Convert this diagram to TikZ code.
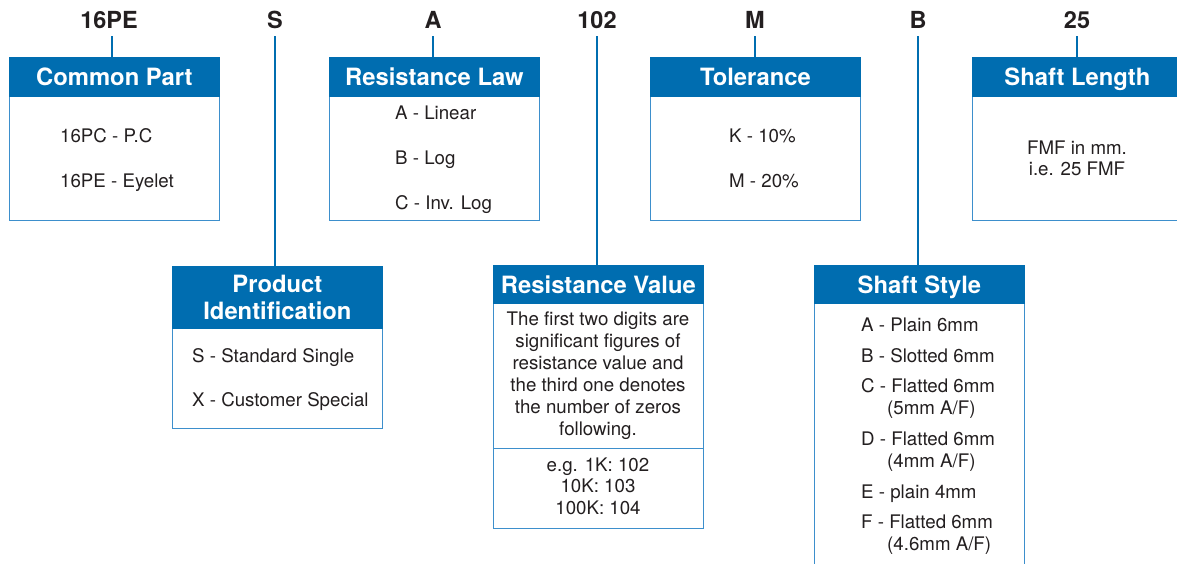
\documentclass[tikz,border=0pt]{standalone}
\usepackage{fontspec}
\setmainfont{TeX Gyre Heros}
\definecolor{hdrblue}{HTML}{006DB0}
\definecolor{edgeblue}{HTML}{3D8FCC}
\definecolor{ink}{HTML}{231F20}
\begin{document}
\begin{tikzpicture}[x=1pt,y=-1pt,
  hdr/.style={fill=hdrblue, draw=hdrblue, line width=0.8pt, text=white,
    font=\bfseries\fontsize{23.8}{27}\selectfont, inner sep=0pt, anchor=north west,
    minimum width=210pt, text height=18pt, text depth=0pt},
  hdr2/.style={hdr, text height={}, text depth={}, align=center},
  bodybox/.style={draw=edgeblue, line width=1.2pt, fill=white, inner sep=0pt,
    anchor=north west, minimum width=210pt},
  txt/.style={text=ink, font=\fontsize{18.7}{22}\selectfont, inner sep=0pt, anchor=base west},
  ctr/.style={txt, anchor=base},
  lbl/.style={text=ink, font=\bfseries\fontsize{23.5}{27}\selectfont, inner sep=0pt, anchor=base},
  conn/.style={draw=hdrblue, line width=1.6pt}
]
\useasboundingbox (0,0) rectangle (1177,563);
\clip (0,0) rectangle (1177,563);
\fill[white] (0,0) rectangle (1177,563);

% top labels
\node[lbl] (l1) at (109,28) {16PE};
\node[lbl] (l2) at (275,28) {S};
\node[lbl] (l3) at (433,28) {A};
\node[lbl] (l4) at (597,28) {102};
\node[lbl] (l5) at (755,28) {M};
\node[lbl] (l6) at (918,28) {B};
\node[lbl] (l7) at (1077,28) {25};

% Common Part
\node[bodybox, minimum height=163pt] (cpB) at (9,57) {};
\node[hdr, minimum height=39pt] (cpH) at (9,57) {Common Part};
\node[txt] (cp1) at (60,142) {16PC - P.C};
\node[txt] (cp2) at (60,187) {16PE - Eyelet};

% Resistance Law
\node[bodybox, minimum height=163pt] (rlB) at (329,57) {};
\node[hdr, minimum height=39pt] (rlH) at (329,57) {Resistance Law};
\node[txt] (rl1) at (395,119) {A - Linear};
\node[txt] (rl2) at (395,164) {B - Log};
\node[txt] (rl3) at (395,209) {C - Inv. Log};

% Tolerance
\node[bodybox, minimum height=163pt] (toB) at (650,57) {};
\node[hdr, minimum height=39pt] (toH) at (650,57) {Tolerance};
\node[txt] (to1) at (729,142) {K - 10\%};
\node[txt] (to2) at (729,187) {M - 20\%};

% Shaft Length
\node[bodybox, minimum height=163pt, minimum width=230pt] (slB) at (972,57) {};
\node[hdr, minimum height=39pt, minimum width=210pt] (slH) at (972,57) {Shaft Length};
\node[ctr] (sl1) at (1077,154) {FMF in mm.};
\node[ctr] (sl2) at (1077,175) {i.e. 25 FMF};

% Product Identification
\node[bodybox, minimum height=162pt] (piB) at (172,266) {};
\node[hdr2, minimum height=62pt] (piH) at (172,266) {Product\\Identification};
\node[txt] (pi1) at (192,362) {S - Standard Single};
\node[txt] (pi2) at (192,406) {X - Customer Special};

% Resistance Value
\node[bodybox, minimum height=183pt] (rvB) at (493,265) {};
\node[bodybox, minimum height=80pt] (rvB2) at (493,448) {};
\node[hdr, minimum height=38pt] (rvH) at (493,265) {Resistance Value};
\node[ctr] (rv1) at (598,325) {The first two digits are};
\node[ctr] (rv2) at (598,347) {significant figures of};
\node[ctr] (rv3) at (598,369) {resistance value and};
\node[ctr] (rv4) at (598,391) {the third one denotes};
\node[ctr] (rv5) at (598,413) {the number of zeros};
\node[ctr] (rv6) at (598,435) {following.};
\node[ctr] (rv7) at (598,471) {e.g. 1K: 102};
\node[ctr] (rv8) at (598,492) {10K: 103};
\node[ctr] (rv9) at (598,514) {100K: 104};

% Shaft Style
\node[bodybox, minimum height=330pt] (ssB) at (814,265) {};
\node[hdr, minimum height=38pt] (ssH) at (814,265) {Shaft Style};
\node[txt] (ss1) at (861,331) {A - Plain 6mm};
\node[txt] (ss2) at (861,362) {B - Slotted 6mm};
\node[txt] (ss3) at (861,392) {C - Flatted 6mm};
\node[txt] (ss4) at (887,414) {(5mm A/F)};
\node[txt] (ss5) at (861,445) {D - Flatted 6mm};
\node[txt] (ss6) at (887,467) {(4mm A/F)};
\node[txt] (ss7) at (861,498) {E - plain 4mm};
\node[txt] (ss8) at (861,528) {F - Flatted 6mm};
\node[txt] (ss9) at (887,550) {(4.6mm A/F)};

% connectors
\draw[conn] ([xshift=3pt,yshift=-8pt]l1.south) -- ([xshift=3pt]l1.south |- cpH.north);
\draw[conn] ([yshift=-8pt]l2.south) -- (l2.south |- piH.north);
\draw[conn] ([yshift=-8pt]l3.south) -- (l3.south |- rlH.north);
\draw[conn] ([yshift=-8pt]l4.south) -- (l4.south |- rvH.north);
\draw[conn] ([yshift=-8pt]l5.south) -- (l5.south |- toH.north);
\draw[conn] ([yshift=-8pt]l6.south) -- (l6.south |- ssH.north);
\draw[conn] ([yshift=-8pt]l7.south) -- (l7.south |- slH.north);
\end{tikzpicture}
\end{document}
